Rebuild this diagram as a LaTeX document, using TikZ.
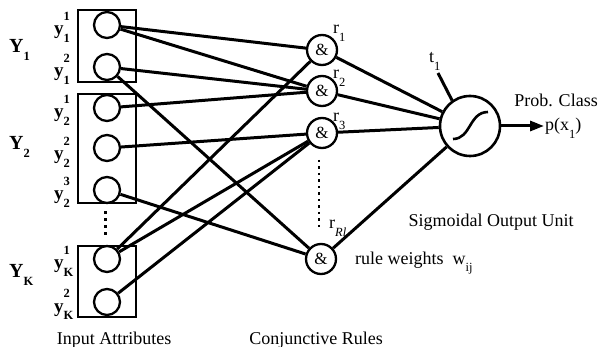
\documentclass[tikz,border=0pt]{standalone}
\usepackage{fontspec}
\setmainfont{Liberation Serif}
\usetikzlibrary{arrows.meta}
\newcommand\sbs[1]{\raisebox{-0.4em}{\fontsize{12.5}{12.5}\selectfont #1}}
\newcommand\sps[1]{\raisebox{0.75em}{\fontsize{12.5}{12.5}\selectfont #1}}
\newcommand\ylab[2]{\textbf{y}\rlap{\sps{\textbf{#1}}}\sbs{\textbf{#2}}}
\begin{document}
\begin{tikzpicture}[x=1pt,y=-1pt,
  inp/.style={circle,draw,line width=2.3pt,minimum size=26pt,inner sep=0pt},
  rulec/.style={circle,draw,line width=2.3pt,minimum size=30pt,inner sep=0pt,font=\fontsize{17}{17}\selectfont},
  sig/.style={circle,draw,line width=2.6pt,minimum size=60pt,inner sep=0pt},
  boxr/.style={draw,line width=2.8pt},
  conn/.style={line width=3pt},
  lbl/.style={font=\fontsize{18}{20}\selectfont,inner sep=0pt},
  ylbl/.style={font=\fontsize{19}{20}\selectfont,inner sep=0pt},
  dotv/.style={line width=3pt,dash pattern=on 3pt off 4pt},
  dotr/.style={line width=2.8pt,dash pattern=on 2.5pt off 4pt}]
\useasboundingbox (0,0) rectangle (599,347);
% boxes
\draw[boxr] (78,10) rectangle (136,82);
\draw[boxr] (78,94) rectangle (136,203);
\draw[boxr] (78,246) rectangle (136,317);
% input units
\node[inp] (a1) at (107,25) {};
\node[inp] (a2) at (107,67) {};
\node[inp] (b1) at (107,108) {};
\node[inp] (b2) at (107,148) {};
\node[inp] (b3) at (107,190) {};
\node[inp] (k1) at (107,259) {};
\node[inp] (k2) at (107,302) {};
\draw[dotv] (105,211.5) -- (105,237);
% labels
\node[ylbl,font=\fontsize{20}{22}\selectfont,anchor=base west] (Y1) at (9,53) {\textbf{Y}\sbs{\textbf{1}}};
\node[ylbl,font=\fontsize{20}{22}\selectfont,anchor=base west] (Y2) at (9,150) {\textbf{Y}\sbs{\textbf{2}}};
\node[ylbl,font=\fontsize{20}{22}\selectfont,anchor=base west] (YK) at (9,277) {\textbf{Y}\sbs{\textbf{K}}};
\node[ylbl,anchor=base west] (la1) at (54,35) {\ylab{1}{1}};
\node[ylbl,anchor=base west] (la2) at (54,77) {\ylab{2}{1}};
\node[ylbl,anchor=base west] (lb1) at (54,118) {\ylab{1}{2}};
\node[ylbl,anchor=base west] (lb2) at (54,160) {\ylab{2}{2}};
\node[ylbl,anchor=base west] (lb3) at (54,200) {\ylab{3}{2}};
\node[ylbl,anchor=base west] (lk1) at (54,269) {\ylab{1}{K}};
\node[ylbl,anchor=base west] (lk2) at (54,312) {\ylab{2}{K}};
% rule units
\node[rulec] (r1) at (322,50) {\&};
\node[rulec] (r2) at (322,91) {\&};
\node[rulec] (r3) at (322,133) {\&};
\node[rulec] (rR) at (321,259) {\&};
\draw[dotr] (319,160) -- (319,229);
\node[lbl,anchor=base west] (lr1) at (333,34) {r\sbs{1}};
\node[lbl,anchor=base west] (lr2) at (333,79) {r\sbs{2}};
\node[lbl,anchor=base west] (lr3) at (333,122) {r\sbs{3}};
\node[lbl,anchor=base west] (lrR) at (329,229) {r\sbs{\textit{Rl}}};
% connections
\draw[conn] (a1) -- (r1);
\draw[conn] (a1) -- (r2);
\draw[conn] (a2) -- (r2);
\draw[conn] (a2) -- (rR);
\draw[conn] (b1) -- (r2);
\draw[conn] (b2) -- (r3);
\draw[conn] (b3) -- (rR);
\draw[conn] (k1) -- (r1);
\draw[conn] (k1) -- (r3);
\draw[conn] (k2) -- (r3);
% output unit
\node[sig] (s) at (470,126) {};
\draw[line width=2.6pt] (453,139) .. controls (471,139) and (469,112) .. (488,112);
\draw[conn] (r1) -- (s);
\draw[conn] (r2) -- (s);
\draw[conn] (r3) -- (s);
\draw[conn] (rR) -- (s);
\coordinate (tt) at (438,73);
\draw[conn] (tt) -- (s.125);
\node[lbl,anchor=base west] (lt) at (429,63) {t\sbs{1}};
\coordinate (out) at (544,126);
\draw[conn,-{Triangle[length=14pt,width=10pt]}] (s.east) -- (out);
\node[lbl,anchor=base] (pc) at (556,107) {Prob. Class};
\node[lbl,anchor=base west] (px) at (545,131) {p(x\sbs{1})};
\node[lbl,anchor=base] (sou) at (491,226) {Sigmoidal Output Unit};
\node[lbl,anchor=base west] (rw) at (355,264) {rule weights\ \ w\sbs{ij}};
\node[lbl,anchor=base] (ia) at (114,344) {Input Attributes};
\node[lbl,anchor=base] (cr) at (316,344) {Conjunctive Rules};
\end{tikzpicture}
\end{document}
